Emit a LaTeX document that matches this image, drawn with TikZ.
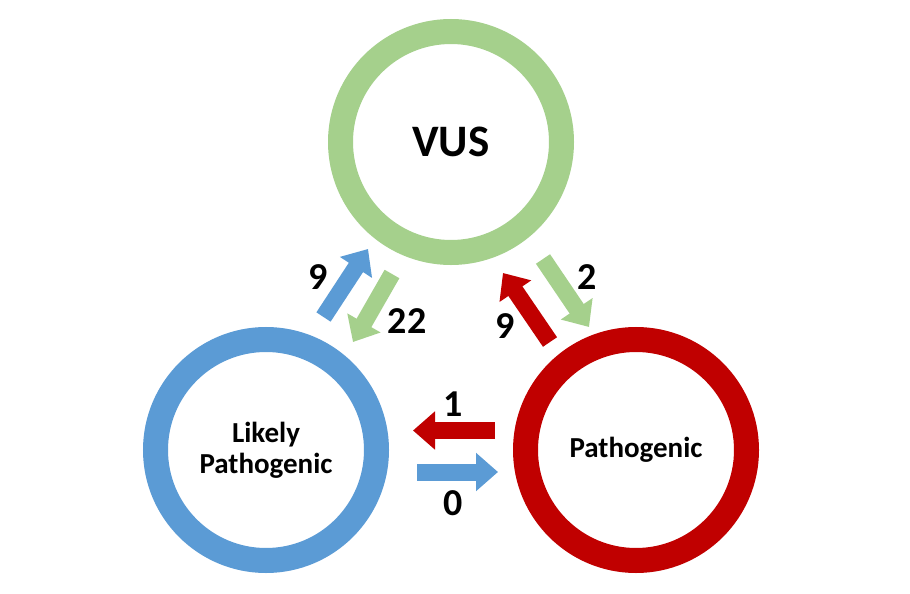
\documentclass[tikz,border=0pt]{standalone}
\usepackage{fontspec}
\setmainfont{Carlito}
\usetikzlibrary{arrows.meta}
\definecolor{vgreen}{HTML}{A5D08C}
\definecolor{lpblue}{HTML}{5B9BD5}
\definecolor{pred}{HTML}{C00000}
\tikzset{
  ring/.style={circle, line width=25pt, minimum size=221pt, inner sep=0pt, font=\bfseries\fontsize{29}{31}\selectfont, align=center, text=black},
  fat/.style={line width=17pt, -{Triangle[width=37pt,length=22pt]}},
  num/.style={font=\bfseries\fontsize{38}{40}\selectfont, text=black, inner sep=0pt}
}
\begin{document}
\begin{tikzpicture}[x=1pt,y=-1pt]
\useasboundingbox[fill=white] (0,0) rectangle (910,594);
\node[ring, draw=vgreen, font=\bfseries\fontsize{45}{47}\selectfont] (vus) at (451,142) {VUS};
\node[ring, draw=lpblue] (lp) at (266,450) {Likely\\Pathogenic};
\node[ring, draw=pred] (p) at (636,450) {Pathogenic};
% arrow end points
\coordinate (b1s) at (323.5,317);
\coordinate (b1e) at (368,249);
\coordinate (g1s) at (392,274);
\coordinate (g1e) at (353,342);
\coordinate (r1s) at (550,342);
\coordinate (r1e) at (503,273);
\coordinate (g2s) at (543,259);
\coordinate (g2e) at (589,327);
\coordinate (r2s) at (495,430.5);
\coordinate (r2e) at (413,430.5);
\coordinate (b2s) at (417,472);
\coordinate (b2e) at (498,472);
\draw[fat, lpblue] (b1s) -- (b1e);
\draw[fat, vgreen] (g1s) -- (g1e);
\draw[fat, pred] (r1s) -- (r1e);
\draw[fat, vgreen] (g2s) -- (g2e);
\draw[fat, pred] (r2s) -- (r2e);
\draw[fat, lpblue] (b2s) -- (b2e);
\node[num] (n9a) at (318,277) {9};
\node[num] (n22) at (407,321) {22};
\node[num] (n9b) at (505,326) {9};
\node[num] (n2) at (587,277) {2};
\node[num] (n1) at (453,404) {1};
\node[num] (n0) at (453,503) {0};
\end{tikzpicture}
\end{document}
